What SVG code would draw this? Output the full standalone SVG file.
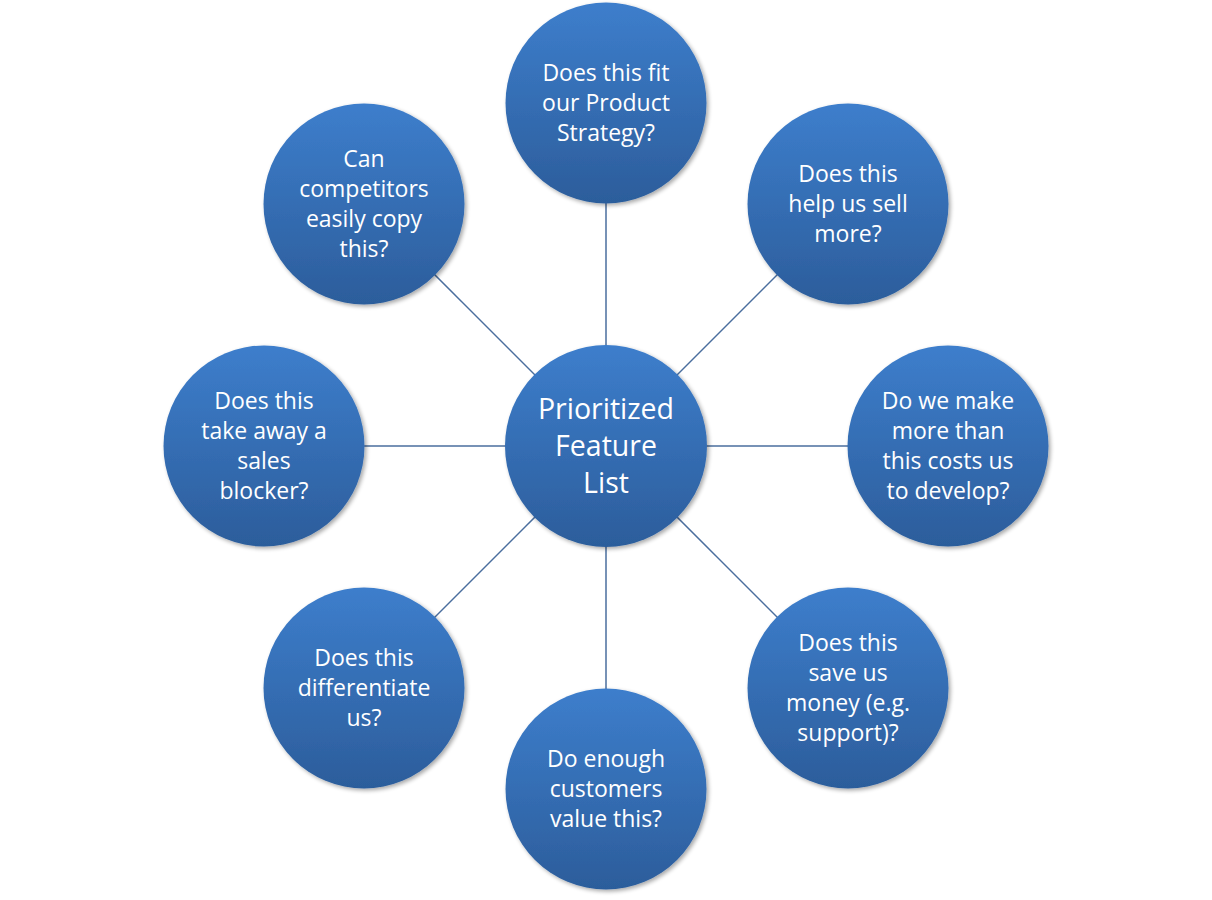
<svg xmlns="http://www.w3.org/2000/svg" width="1212" height="900" viewBox="0 0 1212 900">
<style>
.c{fill:url(#g);filter:url(#sh)}
.t{font-family:"Open Sans","Liberation Sans",sans-serif;font-size:23px;fill:#fff;text-anchor:middle}
.tc{font-size:28.5px}
.ln{stroke:#4a6e9e;stroke-width:1.5}
</style>
<defs>
<linearGradient id="g" x1="0" y1="0" x2="0" y2="1">
<stop offset="0" stop-color="#3d7ecc"/>
<stop offset="1" stop-color="#2c5d9b"/>
</linearGradient>
<filter id="sh" x="-20%" y="-20%" width="140%" height="140%">
<feGaussianBlur in="SourceAlpha" stdDeviation="2"/>
<feOffset dx="1.5" dy="2" result="b"/>
<feComponentTransfer><feFuncA type="linear" slope="0.35"/></feComponentTransfer>
<feMerge><feMergeNode/><feMergeNode in="SourceGraphic"/></feMerge>
</filter>
</defs>
<rect width="1212" height="900" fill="#fff"/>
<g id="connectors">
<line class="ln" x1="606" y1="446" x2="606" y2="103"/>
<line class="ln" x1="606" y1="446" x2="848" y2="204"/>
<line class="ln" x1="606" y1="446" x2="948" y2="446"/>
<line class="ln" x1="606" y1="446" x2="848" y2="688"/>
<line class="ln" x1="606" y1="446" x2="606" y2="789"/>
<line class="ln" x1="606" y1="446" x2="364" y2="688"/>
<line class="ln" x1="606" y1="446" x2="264" y2="446"/>
<line class="ln" x1="606" y1="446" x2="364" y2="204"/>
</g>
<g id="center">
<circle class="c" cx="606" cy="446" r="101"/>
<text class="t tc" x="606" y="419">Prioritized</text>
<text class="t tc" x="606" y="456">Feature</text>
<text class="t tc" x="606" y="493">List</text>
</g>
<g id="n-top">
<circle class="c" cx="606" cy="103" r="100.5"/>
<text class="t" x="606" y="81">Does this fit</text>
<text class="t" x="606" y="111">our Product</text>
<text class="t" x="606" y="141">Strategy?</text>
</g>
<g id="n-topright">
<circle class="c" cx="848" cy="204" r="100.5"/>
<text class="t" x="848" y="182">Does this</text>
<text class="t" x="848" y="212">help us sell</text>
<text class="t" x="848" y="242">more?</text>
</g>
<g id="n-right">
<circle class="c" cx="948" cy="446" r="100.5"/>
<text class="t" x="948" y="409">Do we make</text>
<text class="t" x="948" y="439">more than</text>
<text class="t" x="948" y="469">this costs us</text>
<text class="t" x="948" y="499">to develop?</text>
</g>
<g id="n-bottomright">
<circle class="c" cx="848" cy="688" r="100.5"/>
<text class="t" x="848" y="651">Does this</text>
<text class="t" x="848" y="681">save us</text>
<text class="t" x="848" y="711">money (e.g.</text>
<text class="t" x="848" y="741">support)?</text>
</g>
<g id="n-bottom">
<circle class="c" cx="606" cy="789" r="100.5"/>
<text class="t" x="606" y="767">Do enough</text>
<text class="t" x="606" y="797">customers</text>
<text class="t" x="606" y="827">value this?</text>
</g>
<g id="n-bottomleft">
<circle class="c" cx="364" cy="688" r="100.5"/>
<text class="t" x="364" y="666">Does this</text>
<text class="t" x="364" y="696">differentiate</text>
<text class="t" x="364" y="726">us?</text>
</g>
<g id="n-left">
<circle class="c" cx="264" cy="446" r="100.5"/>
<text class="t" x="264" y="409">Does this</text>
<text class="t" x="264" y="439">take away a</text>
<text class="t" x="264" y="469">sales</text>
<text class="t" x="264" y="499">blocker?</text>
</g>
<g id="n-topleft">
<circle class="c" cx="364" cy="204" r="100.5"/>
<text class="t" x="364" y="167">Can</text>
<text class="t" x="364" y="197">competitors</text>
<text class="t" x="364" y="227">easily copy</text>
<text class="t" x="364" y="257">this?</text>
</g>
</svg>
